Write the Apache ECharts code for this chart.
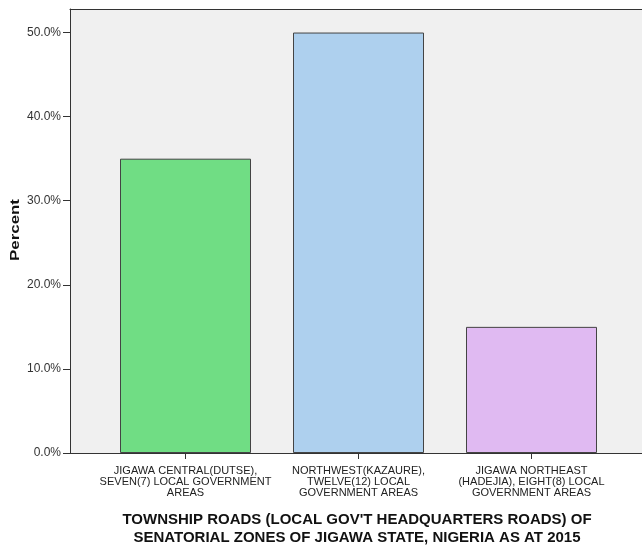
<!DOCTYPE html>
<html>
<head>
<meta charset="utf-8">
<script src="https://cdn.jsdelivr.net/npm/echarts@6/dist/echarts.min.js"></script>
<style>html,body{margin:0;padding:0;background:#fff}#c{width:642px;height:550px}</style>
</head>
<body>
<div id="c"></div>
<script>
const categories = [
  'JIGAWA CENTRAL(DUTSE),\nSEVEN(7) LOCAL GOVERNMENT\nAREAS',
  'NORTHWEST(KAZAURE),\nTWELVE(12) LOCAL\nGOVERNMENT AREAS',
  'JIGAWA NORTHEAST\n(HADEJIA), EIGHT(8) LOCAL\nGOVERNMENT AREAS'
];
const percentValues = [35.0, 50.0, 15.0];
const barColors = ['#70DD84', '#AED0EE', '#E0BAF2'];
const yTicks = [0, 10, 20, 30, 40, 50];
const xTitle = "TOWNSHIP ROADS (LOCAL GOV'T HEADQUARTERS ROADS) OF\nSENATORIAL ZONES OF JIGAWA STATE, NIGERIA AS AT 2015";
const yTitle = 'Percent';

const FONT = '"Liberation Sans", Arial, sans-serif';
const chart = echarts.init(document.getElementById('c'), null, {renderer: 'canvas'});
const option = {
  animation: false,
  backgroundColor: '#ffffff',
  grid: [
    {left: 70, top: 9, width: 577, height: 444, show: true, backgroundColor: '#F0F0F0', borderWidth: 0, containLabel: false},
    {left: 99, top: 9, width: 519, height: 444, containLabel: false}
  ],
  xAxis: [
    {gridIndex: 0, type: 'category', data: ['a'], axisLine: {show: true, lineStyle: {color: '#333', width: 1}}, axisTick: {show: false}, axisLabel: {show: false}},
    {gridIndex: 0, type: 'category', position: 'top', data: ['a'], axisLine: {show: true, lineStyle: {color: '#333', width: 1}}, axisTick: {show: false}, axisLabel: {show: false}},
    {gridIndex: 1, type: 'category', data: categories, axisLine: {show: false},
     axisTick: {show: true, alignWithLabel: true, length: 6, lineStyle: {color: '#333'}},
     axisLabel: {show: true, interval: 0, color: '#222', fontFamily: FONT, fontSize: 11, lineHeight: 11, margin: 12}}
  ],
  yAxis: [
    {gridIndex: 0, type: 'value', min: yTicks[0], max: 52.8, interval: 10,
     axisLine: {show: true, lineStyle: {color: '#333', width: 1}},
     axisTick: {show: true, length: 7, lineStyle: {color: '#333'}},
     axisLabel: {color: '#333', fontFamily: FONT, fontSize: 12, margin: 9, showMaxLabel: false,
       formatter: v => yTicks.includes(v) ? v.toFixed(1) + '%' : ''},
     splitLine: {show: false}},
    {gridIndex: 1, type: 'value', min: yTicks[0], max: 52.8, interval: 10, show: false, splitLine: {show: false}}
  ],
  series: [{
    type: 'bar', xAxisIndex: 2, yAxisIndex: 1,
    data: percentValues.map((v, i) => ({value: v, itemStyle: {color: barColors[i]}})),
    barWidth: 131,
    itemStyle: {borderColor: '#444', borderWidth: 1}
  }],
  graphic: [
    {type: 'text', x: 15, y: 230, rotation: Math.PI / 2, scaleX: 1.3,
     style: {text: yTitle, font: 'bold 13px ' + FONT, fill: '#111', textAlign: 'center', textVerticalAlign: 'middle'}},
    {type: 'text', x: 357, y: 529,
     style: {text: xTitle, font: 'bold 15px ' + FONT, fill: '#111', textAlign: 'center', textVerticalAlign: 'middle', lineHeight: 18}}
  ]
};
chart.setOption(option);
</script>
</body>
</html>
